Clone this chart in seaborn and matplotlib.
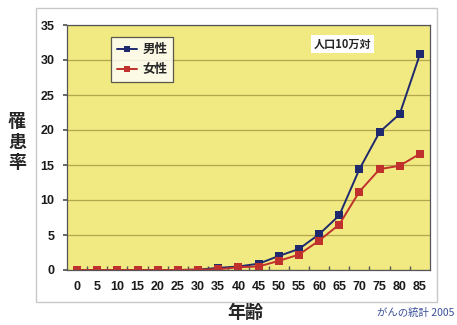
import matplotlib
matplotlib.use("Agg")
import matplotlib.pyplot as plt
import seaborn as sns
import pandas as pd
from matplotlib.patches import Rectangle
from matplotlib.lines import Line2D
from matplotlib import font_manager

ages = [0, 5, 10, 15, 20, 25, 30, 35, 40, 45, 50, 55, 60, 65, 70, 75, 80, 85]
male = [0, 0, 0, 0, 0, 0, 0.05, 0.3, 0.5, 0.9, 2.0, 3.0, 5.1, 7.8, 14.4, 19.7, 22.3, 30.8]
female = [0, 0, 0, 0, 0, 0, 0.05, 0.1, 0.4, 0.5, 1.3, 2.2, 4.2, 6.5, 11.2, 14.4, 14.9, 16.6]
series_names = ["男性", "女性"]
yticks = [0, 5, 10, 15, 20, 25, 30, 35]

sns.set_theme(style="white")
plt.rcParams['font.family'] = ['Noto Sans CJK JP', 'DejaVu Sans']

# narrow font for the numbers if there is one
names = {f.name for f in font_manager.fontManager.ttflist}
num_font = "Liberation Sans Narrow" if "Liberation Sans Narrow" in names else "Liberation Sans"

df = pd.DataFrame({
    "pos": list(range(len(ages))) * 2,
    "rate": male + female,
    "sex": [series_names[0]] * len(ages) + [series_names[1]] * len(ages),
})

fig = plt.figure(figsize=(4.57, 3.25), dpi=100)
fig.patch.set_facecolor("white")
# outer chart panel
fig.add_artist(Rectangle((36 / 457, (325 - 302) / 325), (437 - 36) / 457, (302 - 8) / 325,
                         transform=fig.transFigure, fill=False, edgecolor="#c8c8c8", lw=1.0))

ax = fig.add_axes([67 / 457, (325 - 270) / 325, (430 - 67) / 457, (270 - 25) / 325])
ax.set_facecolor("#f1e982")

palette = {"男性": "#1f2a6e", "女性": "#c0302c"}
sns.lineplot(data=df, x="pos", y="rate", hue="sex", palette=palette, marker="s",
             markersize=5.5, markeredgewidth=0, linewidth=1.4, ax=ax, legend=False)

ax.set_xlim(-0.5, len(ages) - 0.5)
ax.set_ylim(0, 35)
ax.set_yticks(yticks)
ax.set_xticks(range(len(ages)))
ax.set_xticklabels(ages)
ax.grid(axis="y", color="#b3a74e", lw=0.9)
ax.set_axisbelow(True)
for s in ax.spines.values():
    s.set_color("#555555")
    s.set_linewidth(0.9)

ax.tick_params(axis="both", labelsize=9, length=0, pad=8, labelcolor="#1a1a1a")
ax.set_xticks([i + 0.5 for i in range(len(ages) - 1)], minor=True)
ax.tick_params(axis="x", which="minor", direction="in", length=3, color="#555555", bottom=True)
ax.tick_params(axis="y", which="major", direction="out", length=3, color="#555555", left=True, pad=6)
for lbl in ax.get_xticklabels() + ax.get_yticklabels():
    lbl.set_fontweight("bold")
    lbl.set_family(num_font)

ax.set_xlabel("")
ax.set_ylabel("")
fig.text(245 / 457, 1 - 312 / 325, "年齢", ha="center", va="center", fontsize=13, fontweight="bold")
fig.text(17 / 457, 1 - 142 / 325, "罹\n患\n率", ha="center", va="center", fontsize=13,
         fontweight="bold", linespacing=1.1)

# legend
handles = [Line2D([0], [0], color=palette[n], marker="s", markersize=4.5, lw=1.4, markeredgewidth=0)
           for n in series_names]
leg = ax.legend(handles, series_names, loc="upper left", bbox_to_anchor=(0.121, 0.951),
                borderaxespad=0, frameon=True, fancybox=False, fontsize=9, handlelength=1.6,
                borderpad=0.5, labelspacing=0.55, handletextpad=0.4)
leg.get_frame().set_edgecolor("#333333")
leg.get_frame().set_linewidth(0.9)
for t in leg.get_texts():
    t.set_fontweight("bold")

ax.text(0.758, 0.922, "人口10万対", transform=ax.transAxes, ha="center", va="center",
        fontsize=8, fontweight="bold",
        bbox=dict(facecolor="white", edgecolor="none", pad=2))

fig.text(454 / 457, 1 - 313 / 325, "がんの統計 2005", ha="right", va="center", fontsize=7.5,
         color="#3b4f9a", style="italic")

fig.savefig("out.png", dpi=100)
